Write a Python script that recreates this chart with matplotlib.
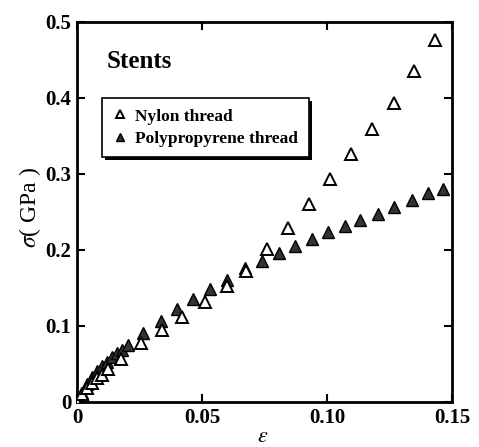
import numpy as np
import matplotlib
matplotlib.use("Agg")
from matplotlib import pyplot as plt
from matplotlib.patches import Rectangle

# strain / stress readings (GPa)
nylon_eps = [0.0, 0.002, 0.004, 0.006, 0.008, 0.010, 0.0125, 0.0175, 0.0257, 0.034,
             0.0421, 0.0511, 0.0599, 0.0675, 0.0759, 0.0844, 0.0929, 0.1013,
             0.1096, 0.1181, 0.1267, 0.1349, 0.1432]
nylon_sig = [0.0, 0.010, 0.018, 0.025, 0.031, 0.036, 0.043, 0.056, 0.077, 0.095,
             0.112, 0.131, 0.153, 0.172, 0.201, 0.229, 0.261, 0.294,
             0.326, 0.359, 0.394, 0.435, 0.476]

pp_eps = [0.0, 0.002, 0.004, 0.006, 0.008, 0.010, 0.012, 0.014, 0.016, 0.018,
          0.0203, 0.0265, 0.0335, 0.0401, 0.0465, 0.0533, 0.0601, 0.0672,
          0.0739, 0.0807, 0.0872, 0.0939, 0.1005, 0.1072, 0.1132, 0.1203,
          0.1269, 0.1339, 0.1403, 0.1465]
pp_sig = [0.0, 0.012, 0.024, 0.033, 0.041, 0.047, 0.053, 0.059, 0.064, 0.069,
          0.075, 0.091, 0.106, 0.122, 0.135, 0.149, 0.161, 0.176,
          0.185, 0.196, 0.205, 0.214, 0.224, 0.232, 0.240, 0.248,
          0.257, 0.266, 0.2745, 0.280]

x_ticks = [0, 0.05, 0.10, 0.15]
x_labels = ["0", "0.05", "0.10", "0.15"]
y_ticks = [0, 0.1, 0.2, 0.3, 0.4, 0.5]
y_labels = ["0", "0.1", "0.2", "0.3", "0.4", "0.5"]

plt.rcParams["font.family"] = ["Liberation Serif", "DejaVu Serif"]
plt.rcParams["mathtext.fontset"] = "stix"

fig = plt.figure(figsize=(4.79, 4.47), dpi=100)
ax = fig.add_axes([0.1608, 0.1007, 0.7828, 0.8501])

ax.plot(pp_eps, pp_sig, linestyle="none", marker="^", markersize=8,
        markerfacecolor="#333333", markeredgecolor="black", markeredgewidth=1.0,
        label="Polypropyrene thread", zorder=3)
ax.plot(nylon_eps, nylon_sig, linestyle="none", marker="^", markersize=8,
        markerfacecolor="white", markeredgecolor="black", markeredgewidth=1.4,
        label="Nylon thread", zorder=4)

ax.set_xlim(0, 0.15)
ax.set_ylim(0, 0.5)
ax.set_xticks(x_ticks)
ax.set_xticklabels(x_labels)
ax.set_yticks(y_ticks)
ax.set_yticklabels(y_labels)
ax.tick_params(direction="in", length=6, width=1.5, top=True, right=True,
               labelsize=15, pad=4)
for lab in ax.get_xticklabels() + ax.get_yticklabels():
    lab.set_fontweight("bold")
for sp in ax.spines.values():
    sp.set_linewidth(2)

# axis labels placed by hand (epsilon sits right at the bottom edge)
fig.text(263 / 479, 1 - 437 / 447, r"$\varepsilon$", fontsize=16,
         ha="center", va="center")
fig.text(30 / 479, 1 - 207 / 447, r"$\sigma$( GPa )", fontsize=17,
         rotation=90, ha="center", va="center")

ax.text(0.08, 0.895, "Stents", transform=ax.transAxes, fontsize=18,
        fontweight="bold", va="center", ha="left")

# legend with drop shadow box
handles, labels = ax.get_legend_handles_labels()
leg = ax.legend(handles[::-1], labels[::-1], loc="upper left",
                bbox_to_anchor=(0.067, 0.80), frameon=True, fancybox=False,
                shadow=False, framealpha=1.0, facecolor="white",
                prop={"weight": "bold", "size": 12.5}, markerscale=0.8,
                handlelength=0.8, handletextpad=0.5, borderpad=0.6,
                labelspacing=0.35, edgecolor="black", borderaxespad=0)
leg.get_frame().set_linewidth(1.2)
fig.canvas.draw()
bb = leg.get_window_extent().transformed(ax.transAxes.inverted())
ax.add_patch(Rectangle((bb.x0 + 0.008, bb.y0 - 0.008), bb.width, bb.height,
                       transform=ax.transAxes, facecolor="black",
                       edgecolor="none", zorder=5))
leg.set_zorder(6)

fig.savefig("out.png", dpi=100)
